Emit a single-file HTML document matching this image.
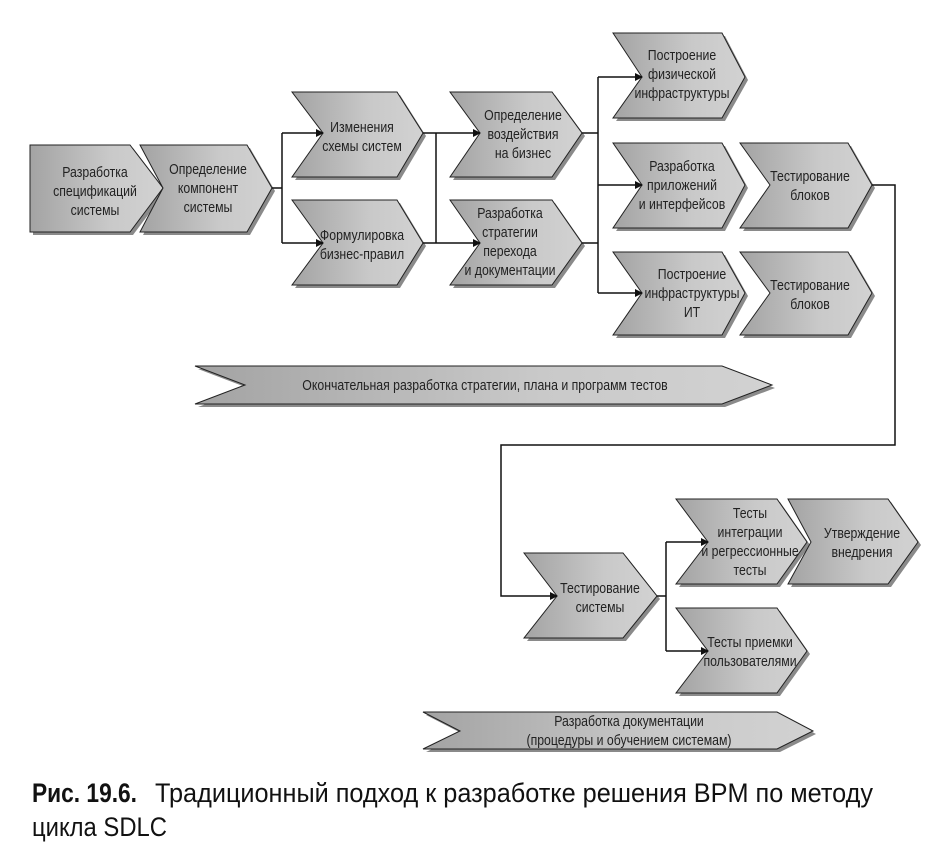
<!DOCTYPE html>
<html><head><meta charset="utf-8"><style>
html,body{margin:0;padding:0;background:#fff;}
svg{display:block;}
.t{font-family:"Liberation Sans","DejaVu Sans",sans-serif;font-size:15px;fill:#222;}
</style></head><body>
<svg width="933" height="846" viewBox="0 0 933 846" xmlns="http://www.w3.org/2000/svg">
<defs>
<linearGradient id="g" x1="0" y1="0" x2="1" y2="0">
<stop offset="0" stop-color="#a3a3a3"/><stop offset="0.6" stop-color="#c9c9c9"/><stop offset="1" stop-color="#d2d2d2"/>
</linearGradient>
<marker id="a" markerWidth="8" markerHeight="8" refX="7" refY="4" orient="auto" markerUnits="userSpaceOnUse">
<path d="M0,0 L8,4 L0,8 Z" fill="#111"/></marker>
</defs>

<g stroke="#222" stroke-width="1" fill="url(#g)">
<g fill="#8a8a8a" stroke="none" transform="translate(3,3)">
<polygon points="30,145 130,145 163,188 130,232 30,232"/>
<polygon points="140,145 247,145 272,188 247,232 140,232 163,188"/>
<polygon points="292,92 397,92 423,133 397,177 292,177 323,133"/>
<polygon points="292,200 397,200 423,243 397,285 292,285 323,243"/>
<polygon points="450,92 552,92 582,133 552,177 450,177 480,133"/>
<polygon points="450,200 552,200 582,243 552,285 450,285 480,243"/>
<polygon points="613,33 722,33 745,77 722,118 613,118 642,77"/>
<polygon points="613,143 722,143 745,185 722,228 613,228 642,185"/>
<polygon points="613,252 722,252 745,293 722,335 613,335 642,293"/>
<polygon points="740,143 848,143 872,185 848,228 740,228 770,185"/>
<polygon points="740,252 848,252 872,293 848,335 740,335 770,293"/>
<polygon points="195,366 722,366 772,385 722,404 195,404 245,385"/>
<polygon points="524,553 623,553 657,596 623,638 524,638 557,596"/>
<polygon points="676,499 777,499 807,542 777,584 676,584 708,542"/>
<polygon points="788,499 888,499 918,542 888,584 788,584 811,542"/>
<polygon points="676,608 777,608 807,651 777,693 676,693 708,651"/>
<polygon points="423,712 777,712 813,731 777,749 423,749 460,731"/>
</g>
<polygon points="30,145 130,145 163,188 130,232 30,232"/>
<polygon points="140,145 247,145 272,188 247,232 140,232 163,188"/>
<polygon points="292,92 397,92 423,133 397,177 292,177 323,133"/>
<polygon points="292,200 397,200 423,243 397,285 292,285 323,243"/>
<polygon points="450,92 552,92 582,133 552,177 450,177 480,133"/>
<polygon points="450,200 552,200 582,243 552,285 450,285 480,243"/>
<polygon points="613,33 722,33 745,77 722,118 613,118 642,77"/>
<polygon points="613,143 722,143 745,185 722,228 613,228 642,185"/>
<polygon points="613,252 722,252 745,293 722,335 613,335 642,293"/>
<polygon points="740,143 848,143 872,185 848,228 740,228 770,185"/>
<polygon points="740,252 848,252 872,293 848,335 740,335 770,293"/>
<polygon points="195,366 722,366 772,385 722,404 195,404 245,385"/>
<polygon points="524,553 623,553 657,596 623,638 524,638 557,596"/>
<polygon points="676,499 777,499 807,542 777,584 676,584 708,542"/>
<polygon points="788,499 888,499 918,542 888,584 788,584 811,542"/>
<polygon points="676,608 777,608 807,651 777,693 676,693 708,651"/>
<polygon points="423,712 777,712 813,731 777,749 423,749 460,731"/>
</g>

<g stroke="#111" stroke-width="1.5" fill="none">
<path d="M272,188 H282 M282,133 V243"/>
<path d="M282,133 H323" marker-end="url(#a)"/>
<path d="M282,243 H323" marker-end="url(#a)"/>
<path d="M423,133 H436 M423,243 H436 M436,133 V243"/>
<path d="M436,133 H480" marker-end="url(#a)"/>
<path d="M436,243 H480" marker-end="url(#a)"/>
<path d="M582,133 H598 M582,243 H598 M598,77 V293"/>
<path d="M598,77 H642" marker-end="url(#a)"/>
<path d="M598,185 H642" marker-end="url(#a)"/>
<path d="M598,293 H642" marker-end="url(#a)"/>
<path d="M872,185 H895 V445 H501 V596 H557" marker-end="url(#a)"/>
<path d="M657,596 H666 M666,542 V651"/>
<path d="M666,542 H708" marker-end="url(#a)"/>
<path d="M666,651 H708" marker-end="url(#a)"/>
</g>

<g class="t" text-anchor="middle">
<g transform="translate(95,0) scale(0.82,1)"><text x="0" y="177">Разработка</text><text x="0" y="196">спецификаций</text><text x="0" y="215">системы</text></g>
<g transform="translate(208,0) scale(0.82,1)"><text x="0" y="174">Определение</text><text x="0" y="193">компонент</text><text x="0" y="212">системы</text></g>
<g transform="translate(362,0) scale(0.82,1)"><text x="0" y="132">Изменения</text><text x="0" y="151">схемы систем</text></g>
<g transform="translate(362,0) scale(0.82,1)"><text x="0" y="240">Формулировка</text><text x="0" y="259">бизнес-правил</text></g>
<g transform="translate(523,0) scale(0.82,1)"><text x="0" y="120">Определение</text><text x="0" y="139">воздействия</text><text x="0" y="158">на бизнес</text></g>
<g transform="translate(510,0) scale(0.82,1)"><text x="0" y="218">Разработка</text><text x="0" y="237">стратегии</text><text x="0" y="256">перехода</text><text x="0" y="275">и документации</text></g>
<g transform="translate(682,0) scale(0.82,1)"><text x="0" y="60">Построение</text><text x="0" y="79">физической</text><text x="0" y="98">инфраструктуры</text></g>
<g transform="translate(682,0) scale(0.82,1)"><text x="0" y="171">Разработка</text><text x="0" y="190">приложений</text><text x="0" y="209">и интерфейсов</text></g>
<g transform="translate(692,0) scale(0.82,1)"><text x="0" y="279">Построение</text><text x="0" y="298">инфраструктуры</text><text x="0" y="317">ИТ</text></g>
<g transform="translate(810,0) scale(0.82,1)"><text x="0" y="181">Тестирование</text><text x="0" y="200">блоков</text></g>
<g transform="translate(810,0) scale(0.82,1)"><text x="0" y="290">Тестирование</text><text x="0" y="309">блоков</text></g>
<g transform="translate(485,0) scale(0.82,1)"><text x="0" y="390">Окончательная разработка стратегии, плана и программ тестов</text></g>
<g transform="translate(600,0) scale(0.82,1)"><text x="0" y="593">Тестирование</text><text x="0" y="612">системы</text></g>
<g transform="translate(750,0) scale(0.82,1)"><text x="0" y="518">Тесты</text><text x="0" y="537">интеграции</text><text x="0" y="556">и регрессионные</text><text x="0" y="575">тесты</text></g>
<g transform="translate(862,0) scale(0.82,1)"><text x="0" y="538">Утверждение</text><text x="0" y="557">внедрения</text></g>
<g transform="translate(750,0) scale(0.82,1)"><text x="0" y="647">Тесты приемки</text><text x="0" y="666">пользователями</text></g>
<g transform="translate(629,0) scale(0.82,1)"><text x="0" y="726">Разработка документации</text><text x="0" y="745">(процедуры и обучением системам)</text></g>
</g>

<g font-family="Liberation Sans, sans-serif" font-size="27" fill="#111">
<text x="32" y="802" font-weight="bold" textLength="105" lengthAdjust="spacingAndGlyphs">Рис. 19.6.</text>
<text x="155" y="802" textLength="718" lengthAdjust="spacingAndGlyphs">Традиционный подход к разработке решения BPM по методу</text>
<text x="32" y="836" textLength="135" lengthAdjust="spacingAndGlyphs">цикла SDLC</text>
</g>
</svg>
</body></html>
